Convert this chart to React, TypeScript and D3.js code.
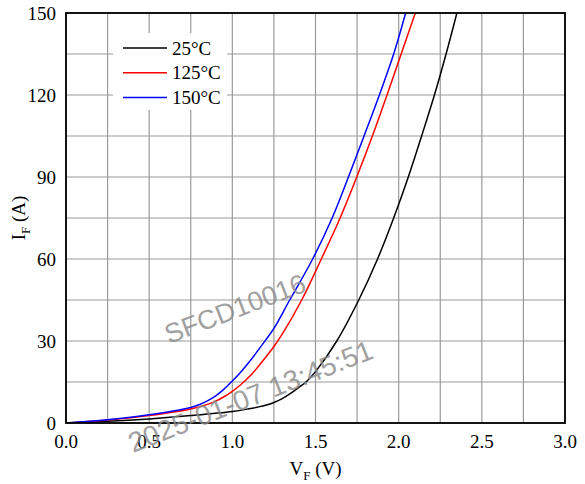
import React from "react";
import * as d3 from "d3";

// forward characteristics: [VF (V), IF (A)]
const curve25: [number, number][] = [
  [0, 0], [0.25, 0.6], [0.5, 1.5], [0.75, 2.7], [1.0, 4.2], [1.1, 5.2], [1.15, 5.8],
  [1.2, 6.5], [1.25, 7.5], [1.3, 8.9], [1.35, 10.8], [1.4, 13.0], [1.443, 15], [1.5, 18.8],
  [1.628, 30], [1.76, 45], [1.873, 60], [1.97, 75], [2.058, 90], [2.138, 105],
  [2.215, 120], [2.285, 135], [2.35, 150],
];
const curve125: [number, number][] = [
  [0, 0], [0.25, 1.1], [0.5, 2.7], [0.75, 5.1], [0.85, 6.8], [0.9, 8.0], [0.95, 9.6],
  [1.0, 11.6], [1.05, 14.0], [1.1, 16.8], [1.15, 20.2], [1.2, 24.0], [1.25, 28.0],
  [1.3, 32.5], [1.417, 45], [1.535, 60], [1.648, 75], [1.748, 90], [1.842, 105],
  [1.93, 120], [2.015, 135], [2.1, 150],
];
const curve150: [number, number][] = [
  [0, 0], [0.25, 1.2], [0.5, 3.0], [0.75, 5.7], [0.8, 6.7], [0.85, 8.1], [0.9, 9.9],
  [0.95, 12.4], [1.0, 15.4], [1.05, 18.6], [1.1, 22.2], [1.2, 30.3], [1.25, 34.6],
  [1.345, 45], [1.483, 60], [1.6, 75], [1.698, 90], [1.792, 105], [1.884, 120],
  [1.97, 135], [2.042, 150],
];

const seriesNames = ["25°C", "125°C", "150°C"];
const seriesColors = ["#000000", "#ff0000", "#0000ff"];
const seriesData = [curve25, curve125, curve150];

const xTicks = [0, 0.5, 1.0, 1.5, 2.0, 2.5, 3.0];
const yTicks = [0, 30, 60, 90, 120, 150];
const xGrid = d3.range(0, 3.001, 0.25);
const yGrid = d3.range(0, 150.1, 15);

const watermark = "SFCD10016";
const timestamp = "2025-01-07 13:45:51";

const W = 585;
const H = 484;
const margin = { left: 66, right: 20, top: 13, bottom: 61 };
const serif = "'Liberation Serif', 'Times New Roman', serif";

export default function App() {
  const x = d3.scaleLinear().domain([0, 3]).range([margin.left, W - margin.right]);
  const y = d3.scaleLinear().domain([0, 150]).range([H - margin.bottom, margin.top]);
  const line = d3
    .line<[number, number]>()
    .x(d => x(d[0]))
    .y(d => y(d[1]))
    .curve(d3.curveCatmullRom.alpha(0.5));

  const legendX = 113;
  const legendY = 33;

  return (
    <svg
      width={W}
      height={H}
      style={{ position: "absolute", left: 0, top: 0, background: "#fff" }}
      fontFamily={serif}
    >
      <defs>
        <clipPath id="plot">
          <rect x={x(0)} y={y(150)} width={x(3) - x(0)} height={y(0) - y(150)} />
        </clipPath>
      </defs>

      <g stroke="#9a9a9a" strokeWidth={1.2}>
        {xGrid.map(v => (
          <line key={"gx" + v} x1={x(v)} x2={x(v)} y1={y(0)} y2={y(150)} />
        ))}
        {yGrid.map(v => (
          <line key={"gy" + v} x1={x(0)} x2={x(3)} y1={y(v)} y2={y(v)} />
        ))}
      </g>

      {/* legend box hides the grid behind it */}
      <rect x={legendX} y={legendY} width={114} height={77} fill="#fff" />
      {seriesNames.map((name, i) => (
        <g key={name} transform={`translate(${legendX}, ${legendY + 15 + i * 24.7})`}>
          <line x1={10} x2={54} y1={0} y2={0} stroke={seriesColors[i]} strokeWidth={1.5} />
          <text x={59} y={0} dy="0.35em" fontSize={19}>
            {name}
          </text>
        </g>
      ))}

      <g clipPath="url(#plot)">
        {seriesData.map((d, i) => (
          <path key={i} d={line(d) ?? ""} fill="none" stroke={seriesColors[i]} strokeWidth={1.5} />
        ))}
      </g>

      <rect
        x={x(0)}
        y={y(150)}
        width={x(3) - x(0)}
        height={y(0) - y(150)}
        fill="none"
        stroke="#000"
        strokeWidth={1.8}
      />

      {yTicks.map(v => (
        <text key={"yt" + v} x={x(0) - 10} y={y(v)} dy="0.35em" textAnchor="end" fontSize={19}>
          {v}
        </text>
      ))}
      {xTicks.map(v => (
        <text key={"xt" + v} x={x(v)} y={y(0) + 25} textAnchor="middle" fontSize={19}>
          {d3.format(".1f")(v)}
        </text>
      ))}

      <text x={(x(0) + x(3)) / 2} y={H - 9} textAnchor="middle" fontSize={19}>
        V<tspan fontSize={13} dy={5}>F</tspan>
        <tspan dy={-5}> (V)</tspan>
      </text>
      <text
        transform={`translate(25, ${(y(0) + y(150)) / 2}) rotate(-90)`}
        textAnchor="middle"
        fontSize={19}
      >
        I<tspan fontSize={13} dy={5}>F</tspan>
        <tspan dy={-5}> (A)</tspan>
      </text>

      <g fontFamily="'Liberation Sans', Arial, sans-serif" fill="#8a8a8a" opacity={0.8}>
        <text transform="translate(169, 344) rotate(-21)" fontSize={27}>
          {watermark}
        </text>
        <text transform="translate(133, 453) rotate(-21.5)" fontSize={28}>
          {timestamp}
        </text>
      </g>
    </svg>
  );
}
